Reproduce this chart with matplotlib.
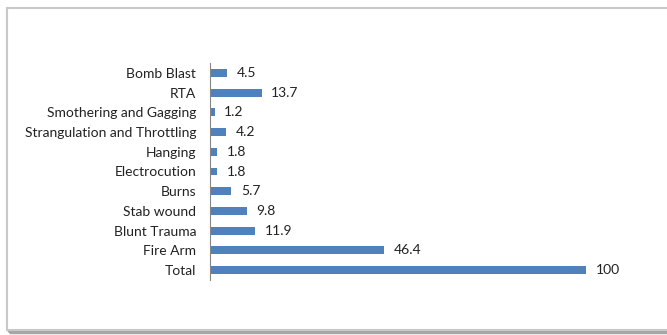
import matplotlib.pyplot as plt
from matplotlib.patches import Rectangle

categories = ["Total", "Fire Arm", "Blunt Trauma", "Stab wound", "Burns",
              "Electrocution", "Hanging", "Strangulation and Throttling",
              "Smothering and Gagging", "RTA", "Bomb Blast"]
values = [100, 46.4, 11.9, 9.8, 5.7, 1.8, 1.8, 4.2, 1.2, 13.7, 4.5]
labels = ["100", "46.4", "11.9", "9.8", "5.7", "1.8", "1.8", "4.2", "1.2", "13.7", "4.5"]

plt.rcParams['font.family'] = ['Lato', 'DejaVu Sans']

fig = plt.figure(figsize=(6.67, 3.35), dpi=100)

# frame around the chart, with a soft shadow
W, H = 667, 335
fig.patches.append(Rectangle((9 / W, 1 - 332 / H), 670 / W, 322 / H,
                             transform=fig.transFigure, fill=False,
                             edgecolor="#a6a6a6", linewidth=2.5, zorder=0))
fig.patches.append(Rectangle((7 / W, 1 - 330 / H), 670 / W, 322 / H,
                             transform=fig.transFigure, facecolor="white",
                             edgecolor="#c8c8c8", linewidth=1.5, zorder=1))

ax = fig.add_axes([210 / W, 55 / H, 430 / W, 217 / H])
ax.set_zorder(2)
ax.patch.set_alpha(0)

y = range(len(categories))
ax.barh(y, values, height=0.4, color="#4F81BD")
for yi, v, lab in zip(y, values, labels):
    ax.text(v + 2.6, yi, lab, va="center", ha="left", fontsize=10, color="#222222")

ax.set_xlim(0, 430 / 3.76)
ax.set_ylim(-0.5, 10.5)
ax.set_yticks(list(y))
ax.set_yticklabels(categories, fontsize=10, color="#222222")
ax.tick_params(axis="y", length=0, pad=10)
ax.set_xticks([])
for s in ["top", "right", "bottom"]:
    ax.spines[s].set_visible(False)
ax.spines["left"].set_color("#868686")
ax.spines["left"].set_linewidth(0.8)

fig.savefig("out.png", dpi=100)
